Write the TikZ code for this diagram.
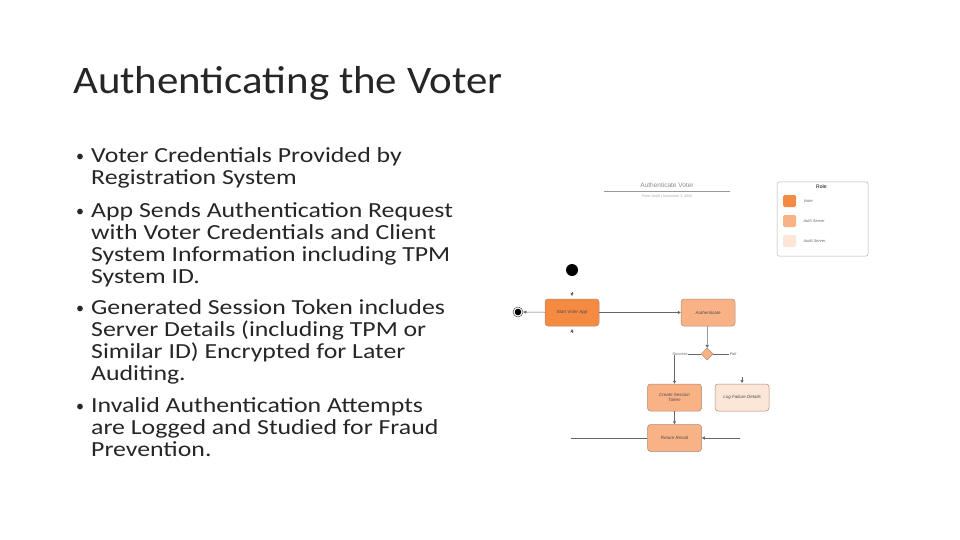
\documentclass[tikz,border=0pt]{standalone}
\usepackage{fontspec}
\setmainfont{Carlito}
\newfontfamily\bul{Carlito}[FakeStretch=1.2]
\newfontfamily\ttl{Carlito}[FakeStretch=1.1]
\newfontfamily\diag{Liberation Sans}
\usetikzlibrary{shapes.geometric,arrows.meta}
\definecolor{voter}{HTML}{F58A42}
\definecolor{auth}{HTML}{F8B285}
\definecolor{audit}{HTML}{FCE6D8}
\definecolor{edge}{HTML}{8A5A3A}
\begin{document}
\begin{tikzpicture}[x=1pt,y=-1pt,
  box/.style={draw=edge!70,line width=0.5pt,rounded corners=3pt,minimum width=54pt,minimum height=27pt,align=center,font=\diag\fontsize{4.5}{5}\selectfont\itshape,text=black!70},
  bl/.style={anchor=base west,font=\bul\fontsize{21.5}{22}\selectfont,inner sep=0,text=black!85},
  conn/.style={draw=black!60,line width=0.5pt,-{Triangle[length=3pt,width=3pt]}},
  lab/.style={font=\diag\fontsize{4}{5}\selectfont\itshape,text=black!60,inner sep=0.5pt,fill=white}]
\useasboundingbox (0,0) rectangle (960,540);
\fill[white] (0,0) rectangle (960,540);
\node[anchor=base west,inner sep=0,font=\ttl\fontsize{39}{40}\selectfont,text=black!85] (title) at (73,94) {Authenticating the Voter};
\foreach \y/\t in {163/{Voter Credentials Provided by},217/{App Sends Authentication Request},314/{Generated Session Token includes},412/{Invalid Authentication Attempts}}
  {\node[bl,font=\fontsize{16}{16}\selectfont] at (76,\y-1) {•}; \node[bl] at (91,\y) {\t};}
\foreach \y/\t in {185/{Registration System},239/{with Voter Credentials and Client},261/{System Information including TPM},283/{System ID.},336/{Server Details (including TPM or},358/{Similar ID) Encrypted for Later},380/{Auditing.},434/{are Logged and Studied for Fraud},456/{Prevention.}}
  {\node[bl] at (91,\y) {\t};}
% diagram header
\node[font=\diag\fontsize{6.5}{7}\selectfont,text=black!45] (dt) at (667,185) {Authenticate Voter};
\draw[black!40,line width=0.5pt] (604,191) -- (730,191);
\node[font=\diag\fontsize{3.5}{4}\selectfont,text=black!35] (ds) at (667,197) {Peter Smith | November 3, 2020};
% legend
\draw[black!30,rounded corners=2pt,line width=0.5pt] (777,182) rectangle (868,256);
\node[font=\diag\fontsize{5}{6}\selectfont] (role) at (822,187) {Role:};
\foreach \y/\c/\t in {201/voter/Voter,221/auth/Auth Server,241/audit/Audit Server}{
  \fill[\c,rounded corners=1.5pt] (783,\y-6) rectangle (796,\y+6);
  \node[anchor=west,font=\diag\fontsize{4}{5}\selectfont\itshape,text=black!60] at (800,\y) {\t};}
% nodes
\node[circle,fill=black,minimum size=12pt,inner sep=0] (start) at (572,270) {};
\node[circle,draw=black!70,line width=0.5pt,minimum size=10pt,inner sep=0] (end) at (518,312) {};
\fill[black] (518,312) circle (3.3pt);
\node[box,fill=voter] (app) at (572,312.5) {Start Voter App};
\node[box,fill=auth] (authn) at (708,312.5) {Authenticate};
\node[diamond,fill=auth,draw=edge!70,line width=0.5pt,minimum size=12pt,inner sep=0] (dec) at (707,354) {};
\node[box,fill=auth] (cst) at (674.5,397.5) {Create Session\\Token};
\node[box,fill=audit] (log) at (742,397.5) {Log Failure Details};
\node[box,fill=auth] (ret) at (674.5,438) {Return Result};
\node[lab] (sl) at (680,354) {Success};
\node[lab] (fl) at (733,354) {Fail};
\coordinate (la) at (572,292); \coordinate (lb) at (572,296);
\coordinate (lc) at (572,333); \coordinate (ld) at (572,329);
\coordinate (sc) at (674.5,355);
\coordinate (rl) at (571,438); \coordinate (rr) at (740,438);
\coordinate (lt) at (742,377); \coordinate (ltt) at (742,383);
% connectors
\draw[conn] (app) -- (end);
\draw[conn] (app) -- (authn);
\draw[conn] (authn) -- (dec);
\draw[black!60,line width=0.5pt] (dec) -- (sl);
\draw[black!60,line width=0.5pt] (dec) -- (fl);
\draw[conn] (sc) -- (cst);
\draw[conn] (cst) -- (ret);
\draw[conn] (la) -- (lb);
\draw[conn] (lc) -- (ld);
\draw[conn] (lt) -- (ltt);
\draw[black!60,line width=0.5pt] (ret) -- (rl);
\draw[conn] (rr) -- (ret);
\end{tikzpicture}
\end{document}
